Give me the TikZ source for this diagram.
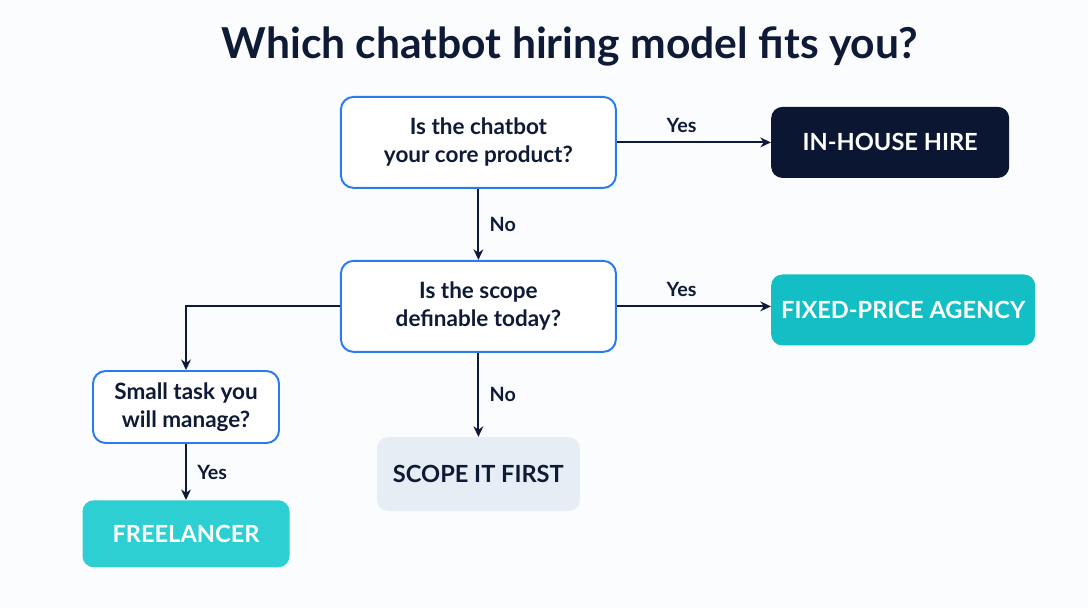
\documentclass[tikz,border=0pt]{standalone}
\usepackage{fontspec}
\setmainfont{Lato}
\usetikzlibrary{arrows.meta, positioning}
\definecolor{ink}{HTML}{0E1A36}
\definecolor{edge}{HTML}{2B7BF0}
\definecolor{navy}{HTML}{0B1633}
\definecolor{teal}{HTML}{13BEC4}
\definecolor{aqua}{HTML}{2DCFD3}
\definecolor{mist}{HTML}{E6EDF5}
\definecolor{paper}{HTML}{FBFCFD}

\begin{document}
\begin{tikzpicture}[
    >={Stealth[length=7.5pt, width=7pt]},
    every node/.style={font=\fontsize{16}{20}\selectfont\bfseries, text=ink},
    ask/.style   ={draw=edge, line width=1.4pt, rounded corners=9pt, fill=white,
                   align=center, minimum width=6.875cm, minimum height=2.275cm},
    small/.style ={ask, minimum width=4.65cm, minimum height=1.8cm},
    verdict/.style ={rounded corners=8pt, align=center, text=white,
                   font=\fontsize{16.8}{20}\selectfont\bfseries, minimum height=1.775cm},
    flow/.style  ={->, line width=1.4pt, draw=ink},
    tag/.style   ={font=\fontsize{14}{16}\selectfont\bfseries},
]
\fill[paper] (0,0) rectangle (27.2,-15.2);
\node[font=\fontsize{30.3}{34}\selectfont\bfseries] (title) at (14.25,-1.15)
     {Which chatbot hiring model fits you?};
\node[ask] (core) at (11.96,-3.56) {Is the chatbot\\your core product?};
\node[ask, below=1.775cm of core] (scope) {Is the scope\\definable today?};
\node[verdict, fill=navy, minimum width=5.95cm, right=3.85cm of core] (inhouse) {IN-HOUSE HIRE};
\node[verdict, fill=teal, minimum width=6.6cm, right=3.85cm of scope, yshift=-0.09cm] (agency) {FIXED-PRICE AGENCY};
\node[verdict, fill=mist, text=ink, minimum width=5.075cm, minimum height=1.85cm,
      below=2.1cm of scope] (first) {SCOPE IT FIRST};
\node[small] (task) at (4.65,-10.175) {Small task you\\will manage?};
\node[verdict, fill=aqua, minimum width=5.175cm, minimum height=1.675cm,
      below=1.4cm of task] (free) {FREELANCER};
\draw[flow] (core.east) -- node[tag, above=3pt, pos=0.42]{Yes} (core.east -| inhouse.west);
\draw[flow] (core) -- node[tag, right=4pt]{No} (scope);
\draw[flow] (scope.east) -- node[tag, above=3pt, pos=0.42]{Yes} (scope.east -| agency.west);
\draw[flow] (scope) -- node[tag, right=4pt]{No} (first);
\draw[flow] (scope.west) -| (task.north);
\draw[flow] (task) -- node[tag, right=4pt]{Yes} (free);
\end{tikzpicture}
\end{document}
